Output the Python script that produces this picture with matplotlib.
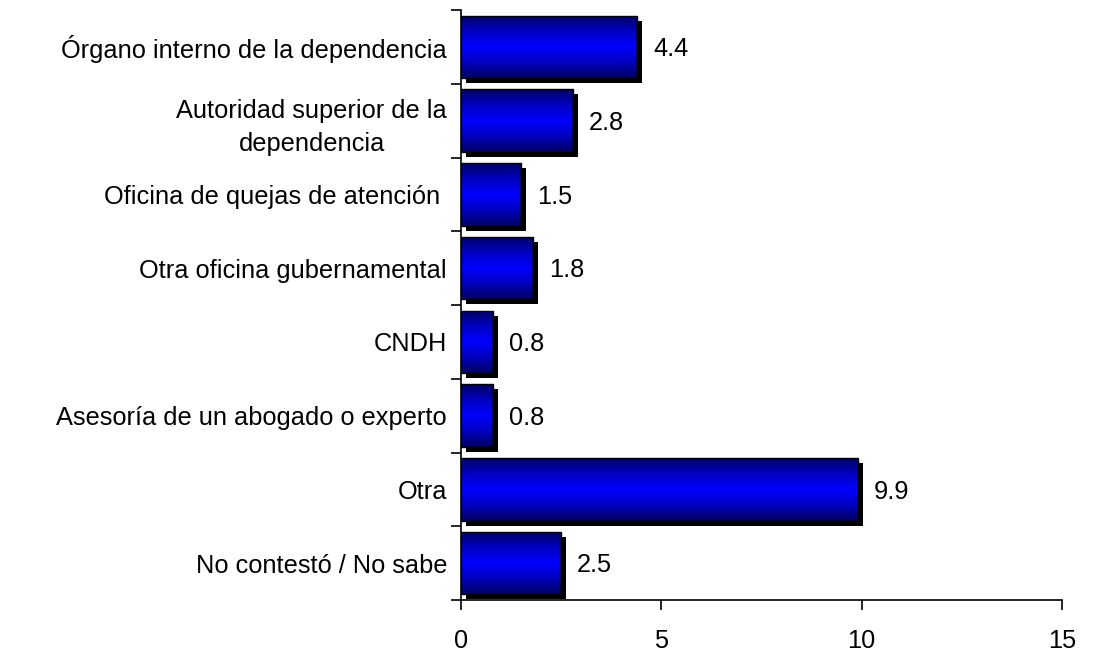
import numpy as np
import matplotlib
matplotlib.use("Agg")
import matplotlib.pyplot as plt
import matplotlib.transforms as mtransforms
from matplotlib.patches import Rectangle
from matplotlib.colors import LinearSegmentedColormap

categories = [
    "Órgano interno de la dependencia",
    "Autoridad superior de la\ndependencia",
    "Oficina de quejas de atención ",
    "Otra oficina gubernamental",
    "CNDH",
    "Asesoría de un abogado o experto",
    "Otra",
    "No contestó / No sabe",
]
values = [4.4, 2.8, 1.5, 1.8, 0.8, 0.8, 9.9, 2.5]
value_labels = ["4.4", "2.8", "1.5", "1.8", "0.8", "0.8", "9.9", "2.5"]
xticks = [0, 5, 10, 15]

plt.rcParams['font.family'] = ['Liberation Sans', 'DejaVu Sans']
FS = 18.3

fig = plt.figure(figsize=(10.94, 6.55), dpi=100)
ax = fig.add_axes([461/1094, 1 - 600/655, (1062 - 461)/1094, 590/655])

n = len(categories)
ypos = np.arange(n)
bar_h = 0.85

ax.set_xlim(0, 15)
ax.set_ylim(n - 0.5, -0.5)

cmap = LinearSegmentedColormap.from_list(
    "bluegrad", ["#000060", "#0000C0", "#0000FF", "#0000C0", "#000060"])
grad = np.linspace(0, 1, 256).reshape(-1, 1)

shadow_tr = mtransforms.offset_copy(ax.transData, fig=fig, x=5, y=-5, units='dots')

for y, v, lab in zip(ypos, values, value_labels):
    y0 = y - bar_h / 2
    sh = Rectangle((0, y0), v, bar_h, transform=shadow_tr,
                   facecolor='black', edgecolor='none', zorder=1, clip_on=False)
    ax.add_patch(sh)
    im = ax.imshow(grad, cmap=cmap, aspect='auto',
                   extent=[0, v, y0 + bar_h, y0], zorder=2)
    rect = Rectangle((0, y0), v, bar_h, facecolor='none',
                     edgecolor='black', linewidth=1.0, zorder=3)
    ax.add_patch(rect)
    im.set_clip_path(rect)
    ax.text(v + 0.4, y + 0.03, lab, va='center', ha='left', fontsize=FS, color='black')

ax.set_xlim(0, 15)
ax.set_ylim(n - 0.5, -0.5)

ax.set_xticks(xticks)
ax.set_xticklabels([str(t) for t in xticks], fontsize=FS)
ax.set_yticks(np.arange(n + 1) - 0.5, minor=False)
ax.set_yticklabels([])
ax.set_yticks(ypos, minor=True)
ax.set_yticklabels(categories, minor=True, fontsize=FS, multialignment='center',
                   linespacing=1.45)
ax.tick_params(axis='y', which='minor', length=0, pad=10)
ax.tick_params(axis='y', which='major', length=7, width=1.2, direction='out')
ax.tick_params(axis='x', length=7, width=1.2, direction='out', pad=14)

for s in ['top', 'right']:
    ax.spines[s].set_visible(False)
for s in ['left', 'bottom']:
    ax.spines[s].set_linewidth(1.2)

fig.savefig("out.png", dpi=100)
